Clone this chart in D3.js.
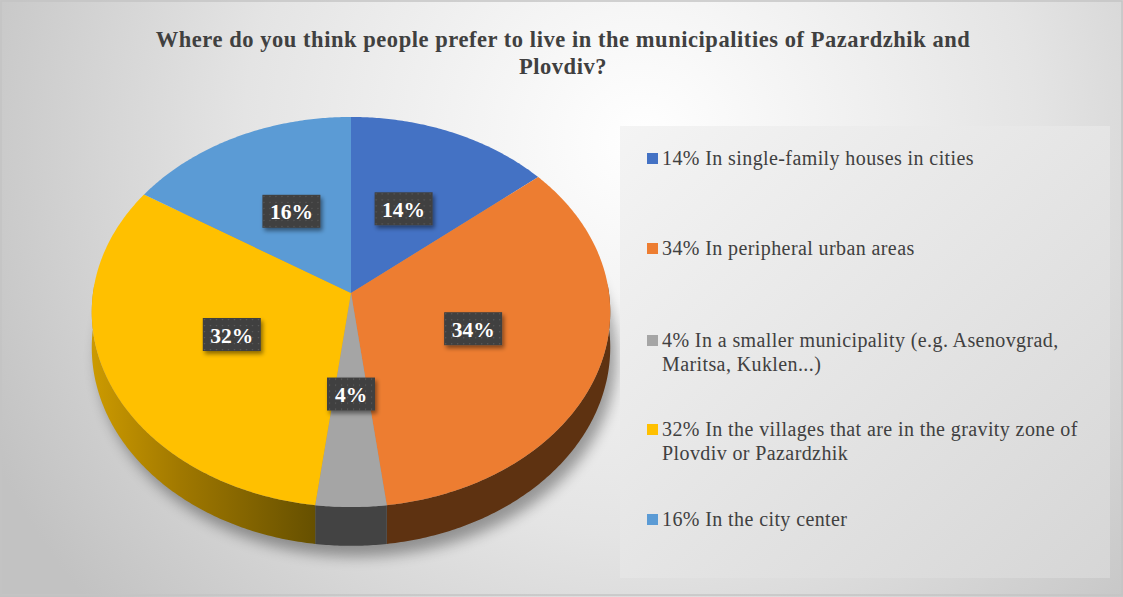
<!DOCTYPE html>
<html lang="en">
<head>
<meta charset="utf-8"/>
<title>Pazardzhik and Plovdiv - preferred place to live</title>
<script src="https://cdn.jsdelivr.net/npm/d3@7"></script>
<style>
  html, body { margin: 0; padding: 0; background: #fff; }
  svg { display: block; }
  text { font-family: "Liberation Serif", "Times New Roman", Tinos, "DejaVu Serif", serif; }
</style>
</head>
<body>
<svg id="chart"></svg>
<script>
// chart data
const categories = [
  "In single-family houses in cities",
  "In peripheral urban areas",
  "In a smaller municipality (e.g. Asenovgrad, Maritsa, Kuklen...)",
  "In the villages that are in the gravity zone of Plovdiv or Pazardzhik",
  "In the city center"
]
const shares = [14, 34, 4, 32, 16]
const legendLines = [
  ["14% In single-family houses in cities"],
  ["34% In peripheral urban areas"],
  ["4% In a smaller municipality (e.g. Asenovgrad,", "Maritsa, Kuklen...)"],
  ["32% In the villages that are in the gravity zone of", "Plovdiv or Pazardzhik"],
  ["16% In the city center"]
]
const titleLines = [
  "Where do you think people prefer to live in the municipalities of Pazardzhik and",
  "Plovdiv?"
]

const width = 1123
const height = 597

const colors = ["#4472c4", "#ed7d31", "#a5a5a5", "#ffc000", "#5b9bd5"]
const sideColors = ["#27447a", "#5e3211", "#434343", "url(#sideYellow)", "#365d80"]

const svg = d3.select("#chart")
  .attr("width", width)
  .attr("height", height)
  .attr("viewBox", `0 0 ${width} ${height}`)

const defs = svg.append("defs")

// background gradient
const bg = defs.append("radialGradient")
  .attr("id", "bg")
  .attr("gradientUnits", "userSpaceOnUse")
  .attr("cx", 640).attr("cy", 140).attr("r", 720)
bg.append("stop").attr("offset", "0").attr("stop-color", "#ffffff")
bg.append("stop").attr("offset", "0.55").attr("stop-color", "#e4e4e4")
bg.append("stop").attr("offset", "1").attr("stop-color", "#c2c2c2")

const lg = defs.append("linearGradient")
  .attr("id", "legendFill")
  .attr("x1", "0").attr("y1", "0").attr("x2", "1").attr("y2", "1")
lg.append("stop").attr("offset", "0").attr("stop-color", "#f4f4f4")
lg.append("stop").attr("offset", "1").attr("stop-color", "#d6d6d6")

const sy = defs.append("linearGradient")
  .attr("id", "sideYellow")
  .attr("gradientUnits", "userSpaceOnUse")
  .attr("x1", 92).attr("y1", 0).attr("x2", 315).attr("y2", 0)
sy.append("stop").attr("offset", "0").attr("stop-color", "#cc9a00")
sy.append("stop").attr("offset", "0.4").attr("stop-color", "#a07800")
sy.append("stop").attr("offset", "1").attr("stop-color", "#665000")

// dotted fill for the label boxes
const dots = defs.append("pattern")
  .attr("id", "dots")
  .attr("patternUnits", "userSpaceOnUse")
  .attr("width", 6).attr("height", 6)
dots.append("rect").attr("width", 6).attr("height", 6).attr("fill", "#3f3f3f")
dots.append("rect").attr("x", 2).attr("y", 2).attr("width", 1.2).attr("height", 1.2).attr("fill", "#5e5e5e")

const labelShadow = defs.append("filter").attr("id", "labelShadow")
  .attr("x", "-30%").attr("y", "-30%").attr("width", "160%").attr("height", "170%")
labelShadow.append("feDropShadow")
  .attr("dx", 2).attr("dy", 3).attr("stdDeviation", 2)
  .attr("flood-color", "#000").attr("flood-opacity", 0.45)

const pieShadow = defs.append("filter").attr("id", "pieShadow")
  .attr("x", "-20%").attr("y", "-20%").attr("width", "140%").attr("height", "140%")
pieShadow.append("feGaussianBlur").attr("stdDeviation", 7)

svg.append("rect")
  .attr("width", width).attr("height", height)
  .attr("fill", "url(#bg)")

svg.append("rect")
  .attr("x", 1).attr("y", 1)
  .attr("width", width - 2).attr("height", height - 3)
  .attr("fill", "none")
  .attr("stroke", "#c4c4c4")
  .attr("stroke-width", 1.5)

// title
svg.append("g")
  .selectAll("text")
  .data(titleLines)
  .enter()
  .append("text")
  .attr("x", 563)
  .attr("y", (d, i) => 47 + i * 27)
  .attr("text-anchor", "middle")
  .attr("font-size", 22.5)
  .attr("font-weight", "bold")
  .attr("letter-spacing", 0.55)
  .attr("fill", "#404040")
  .text(d => d)

// 3d pie, simple perspective tilt
const cx = 351, cy = 293, rx = 258, ry = 193.2, persp = 0.0974, depth = 35

function project(angle, r, drop) {
  const u = r * Math.sin(angle)
  const v = -r * Math.cos(angle)
  const k = 1 / (1 - persp * v)
  return [cx + rx * u * k, cy + ry * v * k + drop * k]
}

const arcs = d3.pie().sort(null).value(d => d)(shares)
const line = d3.line()

function arcPoints(a0, a1, drop) {
  const n = Math.max(2, Math.ceil((a1 - a0) / 0.01))
  return d3.range(n + 1).map(i => project(a0 + (a1 - a0) * i / n, 1, drop))
}

const pie = svg.append("g")

// shadow under the pie
pie.append("path")
  .attr("d", line(arcPoints(0, 2 * Math.PI, depth + 6)) + "Z")
  .attr("transform", "translate(6,4)")
  .attr("fill", "#000")
  .attr("opacity", 0.35)
  .attr("filter", "url(#pieShadow)")

// outer walls, front half only
pie.append("g")
  .selectAll("path")
  .data(arcs)
  .enter()
  .append("path")
  .attr("d", d => {
    const a0 = Math.max(d.startAngle, Math.PI / 2 - 0.05)
    const a1 = Math.min(d.endAngle, 3 * Math.PI / 2 + 0.05)
    if (a1 <= a0) return null
    const top = arcPoints(a0, a1, 0)
    const bottom = arcPoints(a0, a1, depth).reverse()
    return line(top.concat(bottom)) + "Z"
  })
  .attr("fill", (d, i) => sideColors[i])

// top faces
pie.append("g")
  .selectAll("path")
  .data(arcs)
  .enter()
  .append("path")
  .attr("d", d => line([project(0, 0, 0)].concat(arcPoints(d.startAngle, d.endAngle, 0))) + "Z")
  .attr("fill", (d, i) => colors[i])

// data labels
const labels = pie.append("g")
  .selectAll("g")
  .data(arcs)
  .enter()
  .append("g")
  .attr("transform", d => {
    const p = project((d.startAngle + d.endAngle) / 2, 0.5, 0)
    return `translate(${p[0]},${p[1]})`
  })

labels.append("rect")
  .attr("x", d => d.value < 10 ? -24 : -29)
  .attr("y", -17)
  .attr("width", d => d.value < 10 ? 48 : 58)
  .attr("height", 33)
  .attr("fill", "url(#dots)")
  .attr("filter", "url(#labelShadow)")

labels.append("text")
  .attr("y", 7.5)
  .attr("text-anchor", "middle")
  .attr("font-size", 21.5)
  .attr("font-weight", "bold")
  .attr("fill", "#ffffff")
  .text(d => d.value + "%")

// legend
const legend = svg.append("g")

legend.append("rect")
  .attr("x", 620).attr("y", 126)
  .attr("width", 490).attr("height", 452)
  .attr("fill", "url(#legendFill)")

const legendY = [165, 255, 347, 436, 526]

const items = legend.selectAll("g")
  .data(categories)
  .enter()
  .append("g")
  .attr("transform", (d, i) => `translate(647,${legendY[i]})`)

items.append("rect")
  .attr("x", 0).attr("y", -12)
  .attr("width", 11).attr("height", 11)
  .attr("fill", (d, i) => colors[i])

items.append("text")
  .attr("x", 15)
  .attr("font-size", 20)
  .attr("letter-spacing", 0.4)
  .attr("fill", "#404040")
  .selectAll("tspan")
  .data((d, i) => legendLines[i])
  .enter()
  .append("tspan")
  .attr("x", 15)
  .attr("dy", (d, j) => j === 0 ? 0 : 24)
  .text(d => d)
</script>
</body>
</html>
